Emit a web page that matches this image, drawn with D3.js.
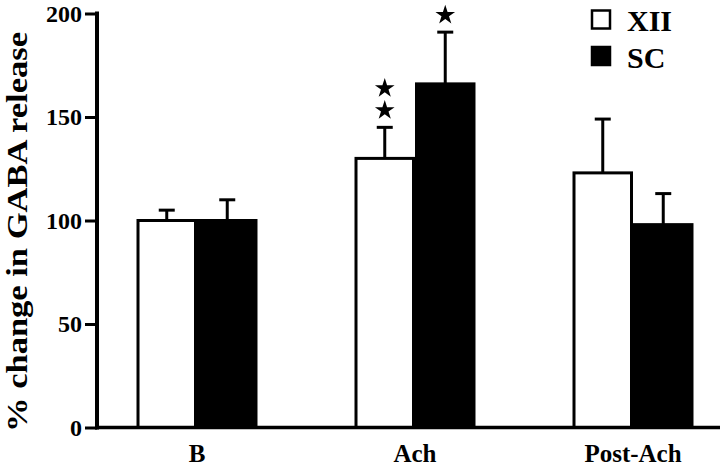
<!DOCTYPE html>
<html><head><meta charset="utf-8">
<script src="https://cdn.jsdelivr.net/npm/d3@7"></script>
<style>html,body{margin:0;padding:0;background:#fff}svg{display:block}</style>
</head><body>
<script>
const categories = ["B", "Ach", "Post-Ach"];
const series = ["XII", "SC"];
const meanXII = [100, 130, 123];
const meanSC = [100, 166, 98];
const errXII = [5, 15, 26];
const errSC = [10, 25, 15];
const starsXII = [0, 2, 0];
const starsSC = [0, 1, 0];
const yTicks = [0, 50, 100, 150, 200];

const W = 720, H = 465;
const font = "'Liberation Serif','Times New Roman',serif";
const svg = d3.select("body").append("svg").attr("width", W).attr("height", H);

const y = d3.scaleLinear().domain([0, 200]).range([427.5, 13.5]);
const x = d3.scaleBand().domain(categories).range([88, 742]).paddingInner(0.445).paddingOuter(0.2225);
const xs = d3.scaleBand().domain(series).range([0, x.bandwidth()]);

const data = [];
categories.forEach((c, i) => {
  data.push({c, s: "XII", v: meanXII[i], e: errXII[i], stars: starsXII[i]});
  data.push({c, s: "SC", v: meanSC[i], e: errSC[i], stars: starsSC[i]});
});

const g = svg.append("g");
const cap = 16;
data.forEach(d => {
  const cx = x(d.c) + xs(d.s) + xs.bandwidth() / 2;
  g.append("line").attr("x1", cx).attr("x2", cx).attr("y1", y(d.v)).attr("y2", y(d.v + d.e))
    .attr("stroke", "#000").attr("stroke-width", 3);
  g.append("line").attr("x1", cx - cap / 2).attr("x2", cx + cap / 2).attr("y1", y(d.v + d.e)).attr("y2", y(d.v + d.e))
    .attr("stroke", "#000").attr("stroke-width", 3);
  for (let k = 0; k < d.stars; k++) {
    g.append("path").attr("d", d3.symbol(d3.symbolStar, 120)())
      .attr("transform", `translate(${cx},${y(d.v + d.e) - 17 - k * 22})`)
      .attr("fill", "#000");
  }
});
g.selectAll("rect.bar").data(data).join("rect")
  .attr("x", d => x(d.c) + xs(d.s) + 1.5)
  .attr("width", xs.bandwidth() - 3)
  .attr("y", d => y(d.v))
  .attr("height", d => y(0) - y(d.v))
  .attr("fill", d => d.s === "XII" ? "#fff" : "#000")
  .attr("stroke", "#000").attr("stroke-width", 3);

// y axis
const ya = svg.append("g").attr("transform", "translate(97,0)")
  .call(d3.axisLeft(y).tickValues(yTicks).tickSize(12).tickPadding(3));
ya.select(".domain").remove();
ya.selectAll(".tick line").attr("stroke", "#000").attr("stroke-width", 3);
ya.selectAll(".tick text").attr("font-family", font).attr("font-weight", "bold").attr("font-size", 24).attr("fill", "#000");
svg.append("line").attr("x1", 97).attr("x2", 97).attr("y1", y(200) - 2).attr("y2", y(0) + 2)
  .attr("stroke", "#000").attr("stroke-width", 4);
// x axis
const xa = svg.append("g").attr("transform", `translate(0,${y(0)})`)
  .call(d3.axisBottom(x).tickSize(0));
xa.select(".domain").remove();
xa.selectAll(".tick text").attr("y", 34).attr("dy", null)
  .attr("font-family", font).attr("font-weight", "bold").attr("font-size", 25).attr("fill", "#000");
svg.append("line").attr("x1", 95).attr("x2", 720).attr("y1", y(0)).attr("y2", y(0))
  .attr("stroke", "#000").attr("stroke-width", 3.5);

// y title
svg.append("text").attr("transform", `translate(27,232) rotate(-90)`)
  .attr("text-anchor", "middle").attr("font-family", font).attr("font-weight", "bold")
  .attr("font-size", 30).attr("fill", "#000")
  .attr("textLength", 400).attr("lengthAdjust", "spacingAndGlyphs")
  .text("% change in GABA release");

// legend
const lg = svg.append("g");
series.forEach((s, i) => {
  lg.append("rect").attr("x", 592).attr("y", 10.5 + i * 36.5).attr("width", 18).attr("height", 18)
    .attr("fill", s === "XII" ? "#fff" : "#000").attr("stroke", "#000").attr("stroke-width", 2.5);
  lg.append("text").attr("x", 627).attr("y", 31 + i * 36.5).attr("font-family", font).attr("font-weight", "bold")
    .attr("font-size", 30).attr("fill", "#000").text(s);
});
</script>
</body></html>
